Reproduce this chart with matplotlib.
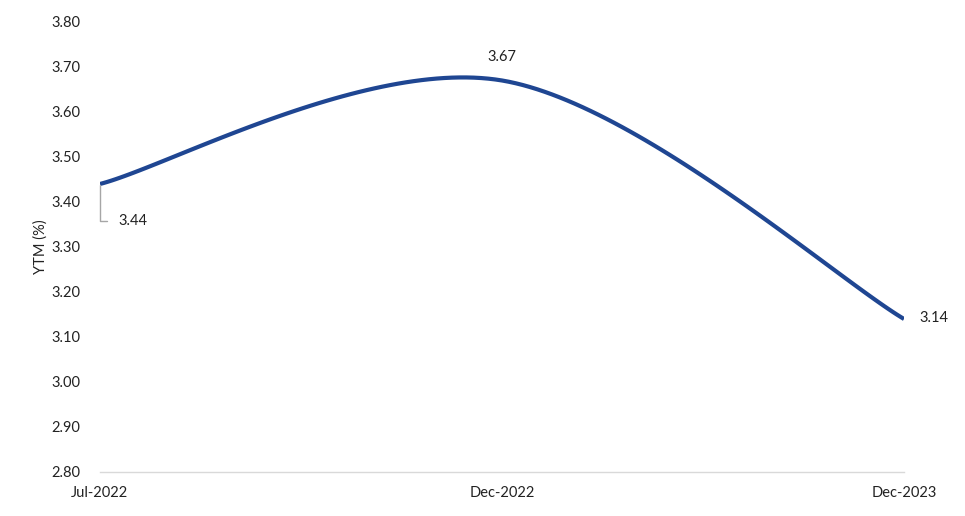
import numpy as np
import matplotlib
matplotlib.use('Agg')
import matplotlib.pyplot as plt

# data
months = ['Jul-2022', 'Dec-2022', 'Dec-2023']
ytm = [3.44, 3.67, 3.14]

yticks = np.arange(2.8, 3.81, 0.1)


def smooth_line(xs, ys, steps=60):
    """Excel style smoothed line: cubic bezier segments through the points"""
    pts = np.column_stack([xs, ys]).astype(float)
    n = len(pts)
    out = []
    for i in range(n - 1):
        p0 = pts[max(i - 1, 0)]
        p1 = pts[i]
        p2 = pts[i + 1]
        p3 = pts[min(i + 2, n - 1)]
        c1 = p1 + (p2 - p0) / 6.
        c2 = p2 - (p3 - p1) / 6.
        t = np.linspace(0, 1, steps)[:, None]
        seg = ((1 - t) ** 3) * p1 + 3 * ((1 - t) ** 2) * t * c1 \
            + 3 * (1 - t) * t ** 2 * c2 + t ** 3 * p2
        out.append(seg if i == 0 else seg[1:])
    out = np.vstack(out)
    return out[:, 0], out[:, 1]


plt.rcParams['font.family'] = ['Lato', 'DejaVu Sans']

fig = plt.figure(figsize=(9.65, 5.16), dpi=100)
ax = fig.add_axes([0.1036, 0.0853, 0.8332, 0.8721])

x = np.arange(len(months))
sx, sy = smooth_line(x, ytm)
ax.plot(sx, sy, color='#1f4692', lw=3.0, solid_capstyle='butt', zorder=3)

ax.set_xlim(0, len(months) - 1)
ax.set_ylim(2.8, 3.8)
ax.set_yticks(yticks)
ax.set_yticklabels(['%.2f' % v for v in yticks])
ax.set_xticks(x)
ax.set_xticklabels(months)
ax.tick_params(axis='both', length=0, labelsize=10.5, colors='#222222')
ax.tick_params(axis='y', pad=14)
ax.tick_params(axis='x', pad=10)

for side in ['top', 'right', 'left']:
    ax.spines[side].set_visible(False)
ax.spines['bottom'].set_color('#d9d9d9')
ax.spines['bottom'].set_linewidth(1.0)

ax.set_ylabel('YTM (%)', fontsize=10.5, color='#222222', labelpad=3)

# data labels
ax.annotate('%.2f' % ytm[0], xy=(x[0], ytm[0]), xytext=(13, -27),
            textcoords='offset points', ha='left', va='center',
            fontsize=10.5, color='#222222',
            arrowprops=dict(arrowstyle='-', color='#a6a6a6', lw=1.0,
                            shrinkA=6, shrinkB=1,
                            connectionstyle='angle,angleA=0,angleB=90,rad=0'))
ax.annotate('%.2f' % ytm[1], xy=(x[1], ytm[1]), xytext=(0, 17),
            textcoords='offset points', ha='center', va='center',
            fontsize=10.5, color='#222222')
ax.annotate('%.2f' % ytm[2], xy=(x[2], ytm[2]), xytext=(11, 1),
            textcoords='offset points', ha='left', va='center',
            fontsize=10.5, color='#222222')

fig.savefig('out.png', dpi=100)
